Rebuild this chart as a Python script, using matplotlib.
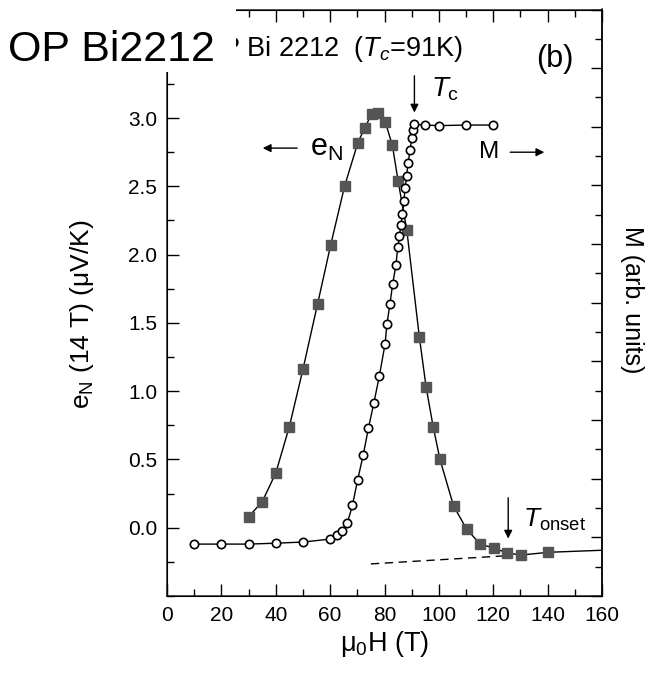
import matplotlib
matplotlib.use("Agg")
import matplotlib.pyplot as plt
from matplotlib.ticker import MultipleLocator, NullFormatter
from matplotlib.patches import Rectangle

plt.rcParams['font.family'] = ['Liberation Sans', 'DejaVu Sans']
plt.rcParams['mathtext.fontset'] = 'custom'
plt.rcParams['mathtext.rm'] = 'Liberation Sans'
plt.rcParams['mathtext.it'] = 'Liberation Sans:italic'
plt.rcParams['mathtext.bf'] = 'Liberation Sans:bold'

# ---- data ----
eN_field = [30, 35, 40, 45, 50, 55.4, 60.2, 65.3, 70.2, 72.8, 75.3, 77.7, 80.3, 82.9,
            85.0, 88.2, 92.8, 95.3, 97.9, 100.4, 105.4, 110.2, 115.2, 120.3, 125.2, 130.3, 140.2]
eN_values = [0.08, 0.19, 0.40, 0.74, 1.16, 1.64, 2.07, 2.50, 2.82, 2.93, 3.03, 3.04, 2.97, 2.80,
             2.54, 2.18, 1.40, 1.03, 0.74, 0.50, 0.16, -0.01, -0.12, -0.15, -0.185, -0.20, -0.18]

M_field = [10, 20, 30, 40, 50, 60, 62.4, 64.4, 66.3, 68.2, 70.1, 72.2, 74.1, 76.1, 78.1, 80.2,
           80.9, 82.0, 83.0, 84.2, 84.9, 85.5, 86.0, 86.6, 87.1, 87.6, 88.1, 88.7, 89.4, 90.0,
           90.4, 91.0, 95, 100, 110, 120]
M_values = [1.77, 1.77, 1.77, 1.80, 1.84, 1.94, 2.08, 2.22, 2.48, 3.09, 3.95, 4.82, 5.73, 6.59,
            7.50, 8.59, 9.27, 9.96, 10.63, 11.29, 11.91, 12.27, 12.65, 13.02, 13.47, 13.90,
            14.32, 14.77, 15.21, 15.61, 15.89, 16.08, 16.06, 16.04, 16.06, 16.06]

bg_field = [75, 125]
bg_values = [-0.265, -0.205]
bg_tail_field = [140.2, 160]
bg_tail_values = [-0.18, -0.165]

x_ticks = [0, 20, 40, 60, 80, 100, 120, 140, 160]
y_ticks = [0.0, 0.5, 1.0, 1.5, 2.0, 2.5, 3.0]

Tc_field = 91.0
Tonset_field = 125.5

# ---- figure ----
W, H = 652, 673
fig = plt.figure(figsize=(W / 100, H / 100), dpi=100)
ax = fig.add_axes([167 / W, 1 - 596 / H, (602 - 167) / W, (596 - 9.5) / H])

ax.plot(bg_field, bg_values, color='black', lw=1.0, ls=(0, (6, 4)), zorder=2)
ax.plot(bg_tail_field, bg_tail_values, color='black', lw=1.0, zorder=2)
ax.plot(eN_field, eN_values, color='black', lw=1.0, marker='s', ms=6.6,
        mfc='#555555', mec='#555555', zorder=3)

ax.set_xlim(0, 160)
ax.set_ylim(-0.5, 3.795)
ax.set_xticks(x_ticks)
ax.set_yticks(y_ticks)
ax.set_yticklabels([f"{v:.1f}" for v in y_ticks])
ax.xaxis.set_minor_locator(MultipleLocator(10))
ax.yaxis.set_minor_locator(MultipleLocator(0.25))
ax.tick_params(which='both', direction='in', top=True, right=False, labelsize=15,
               width=1.0, colors='black')
ax.tick_params(which='major', length=8.5)
ax.tick_params(which='minor', length=5)
ax.tick_params(axis='x', pad=7)
ax.tick_params(axis='y', pad=7)
for s in ax.spines.values():
    s.set_linewidth(1.1)
    s.set_color('#222222')

ax2 = ax.twinx()
ax2.plot(M_field, M_values, color='black', lw=1.0, marker='o', ms=6.0,
         mfc='white', mec='black', mew=1.2, zorder=4)
ax2.set_ylim(0, 20)
ax2.yaxis.set_major_locator(MultipleLocator(2))
ax2.yaxis.set_minor_locator(MultipleLocator(1))
ax2.yaxis.set_major_formatter(NullFormatter())
ax2.tick_params(which='both', direction='in', width=1.0)
ax2.tick_params(which='major', length=8)
ax2.tick_params(which='minor', length=5)
ax2.set_ylabel('M (arb. units)', rotation=270, fontsize=18, va='center')
ax2.yaxis.set_label_coords(1.07, 0.505)
ax2.spines['right'].set_linewidth(1.1)

ax.set_xlabel(r'$\mathrm{μ}_0$H (T)', fontsize=19.5, labelpad=3)
ax.set_ylabel(r'$\mathrm{e}_\mathrm{N}$ (14 T) (μV/K)', fontsize=19)
ax.yaxis.set_label_coords(-0.163, 0.481)

# annotations
ax.text(12.2, 3.455, r'OP Bi 2212  ($T_c$=91K)', fontsize=19.5, va='baseline', ha='left')
ax.text(149.5, 3.43, '(b)', fontsize=22, va='center', ha='right')

ax.annotate('', xy=(Tc_field, 3.02), xytext=(Tc_field, 3.33),
            arrowprops=dict(arrowstyle='-|>', color='black', lw=1.0, mutation_scale=12))
ax.text(97.0, 3.155, r'$T_\mathrm{c}$', fontsize=20, ha='left', va='baseline')

ax.annotate('', xy=(34.2, 2.78), xytext=(48.9, 2.78),
            arrowprops=dict(arrowstyle='-|>', color='black', lw=1.0, mutation_scale=12))
ax.text(52.5, 2.72, r'$\mathrm{e}_\mathrm{N}$', fontsize=22, ha='left', va='baseline')

ax.text(114.6, 2.75, 'M', fontsize=17.5, ha='left', va='center')
ax.annotate('', xy=(139.8, 2.75), xytext=(125.2, 2.75),
            arrowprops=dict(arrowstyle='-|>', color='black', lw=1.0, mutation_scale=12))

ax.annotate('', xy=(Tonset_field, -0.10), xytext=(Tonset_field, 0.24),
            arrowprops=dict(arrowstyle='-|>', color='black', lw=1.0, mutation_scale=12))
ax.text(131.0, 0.005, r'$T_\mathrm{onset}$', fontsize=19, ha='left', va='baseline')

# overlay label box
fig.patches.append(Rectangle((0, 1 - 72 / H), 236 / W, 72 / H, transform=fig.transFigure,
                             facecolor='white', edgecolor='none', zorder=10))
fig.text(8 / W, 1 - 61 / H, 'OP Bi2212', fontsize=31, ha='left', va='baseline', zorder=11)

fig.savefig('out.png', dpi=100)
